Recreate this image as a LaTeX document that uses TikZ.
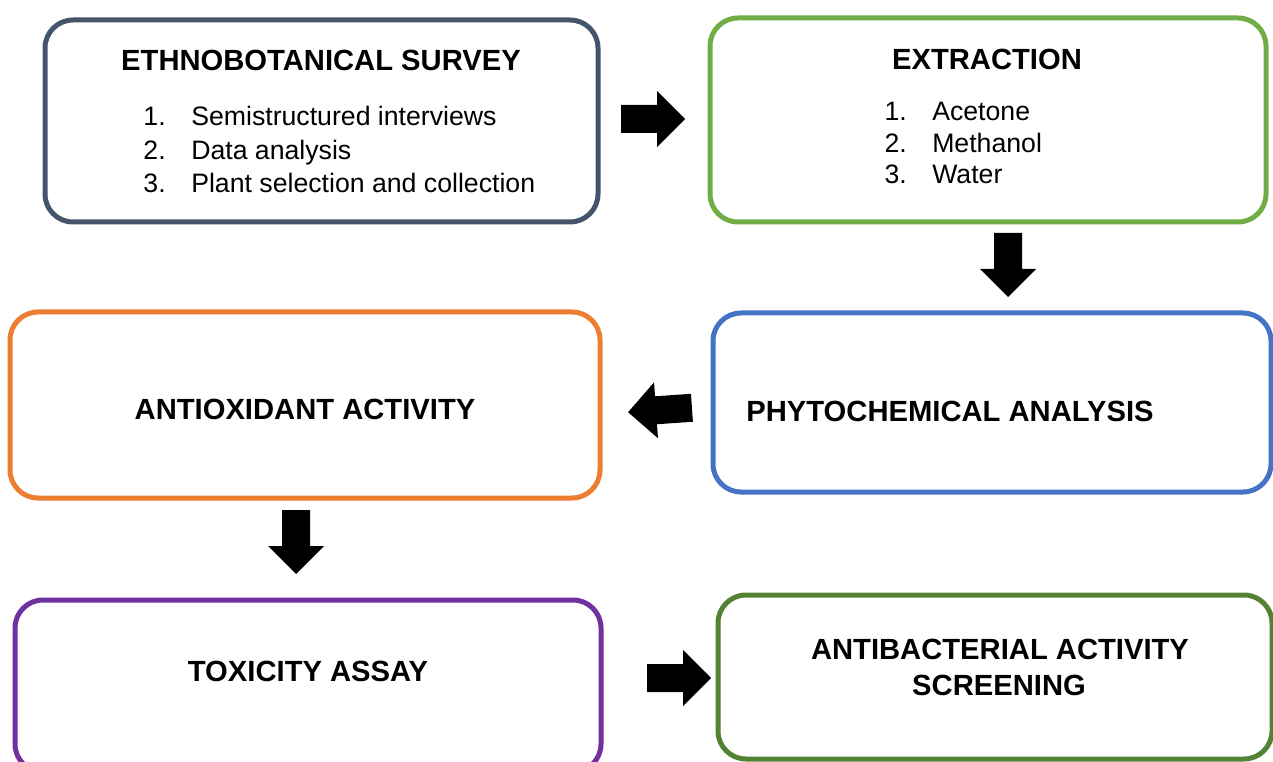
\documentclass[tikz,border=0pt]{standalone}
\usepackage{fontspec}
\setmainfont{Liberation Sans}
\usetikzlibrary{positioning}

\definecolor{slate}{HTML}{44546A}
\definecolor{leafgreen}{HTML}{70AD47}
\definecolor{steelblue}{HTML}{4472C4}
\definecolor{tangerine}{HTML}{ED7D31}
\definecolor{violet}{HTML}{7030A0}
\definecolor{mossgreen}{HTML}{548235}

\begin{document}
\begin{tikzpicture}[x=0.75pt,y=-0.75pt]
  \tikzstyle{StepBox}=[draw,line width=3.75pt,rounded corners=21pt,inner sep=0pt]
  \tikzstyle{Heading}=[font=\fontsize{21.9}{26}\selectfont\bfseries,inner sep=0pt]
  \tikzstyle{Item}=[font=\fontsize{20}{24}\selectfont,inner sep=0pt]
  \tikzset{blockarrow/.pic={\fill (-32,-14) -- (4,-14) -- (4,-28) -- (32,0) -- (4,28) -- (4,14) -- (-32,14) -- cycle;}}

  \useasboundingbox (0,0) rectangle (1273,762);

  % boxes
  \node[StepBox,draw=slate,minimum width=414.75pt,minimum height=151.5pt] (survey) at (321.5,121) {};
  \node[StepBox,draw=leafgreen,minimum width=417pt,minimum height=153pt] (extraction) at (988,120) {};
  \node[StepBox,draw=steelblue,minimum width=418.5pt,minimum height=134.25pt] (phyto) at (992,402.5) {};
  \node[StepBox,draw=tangerine,minimum width=442.5pt,minimum height=139.5pt] (antiox) at (305,405) {};
  \node[StepBox,draw=violet,minimum width=439.5pt,minimum height=129pt] (toxicity) at (308,686) {};
  \node[StepBox,draw=mossgreen,minimum width=415.5pt,minimum height=123pt] (antibac) at (995,677) {};

  % headings
  \node[Heading] (surveyhead) at (321,60) {ETHNOBOTANICAL SURVEY};
  \node[Heading] (extracthead) at (987,59) {EXTRACTION};
  \node[Heading] (phytohead) at (950,411) {PHYTOCHEMICAL ANALYSIS};
  \node[Heading] (antioxhead) at (305,409) {ANTIOXIDANT ACTIVITY};
  \node[Heading] (toxhead) at (308,671) {TOXICITY ASSAY};
  \node[Heading] (antibachead) at (1000,649) {ANTIBACTERIAL ACTIVITY};
  \node[Heading] (screenhead) at (999,685) {SCREENING};

  % lists
  \foreach \n/\txt/\yb in {1/Semistructured interviews/125.5,2/Data analysis/159.5,3/Plant selection and collection/192.5}
  {
    \node[Item,anchor=base east] (surveynum\n) at (166,\yb) {\n.};
    \node[Item,anchor=base west] (surveyitem\n) at (191,\yb) {\txt};
  }
  \foreach \n/\txt/\yb in {1/Acetone/120.5,2/Methanol/152.5,3/Water/183.5}
  {
    \node[Item,anchor=base east] (extractnum\n) at (907,\yb) {\n.};
    \node[Item,anchor=base west] (extractitem\n) at (932,\yb) {\txt};
  }

  % arrows
  \pic at (653,119) {blockarrow};
  \pic[rotate=-90] at (1008,265) {blockarrow};
  \pic[rotate=184] at (660,410) {blockarrow};
  \pic[rotate=-90] at (296,542) {blockarrow};
  \pic at (679,678) {blockarrow};
\end{tikzpicture}
\end{document}
